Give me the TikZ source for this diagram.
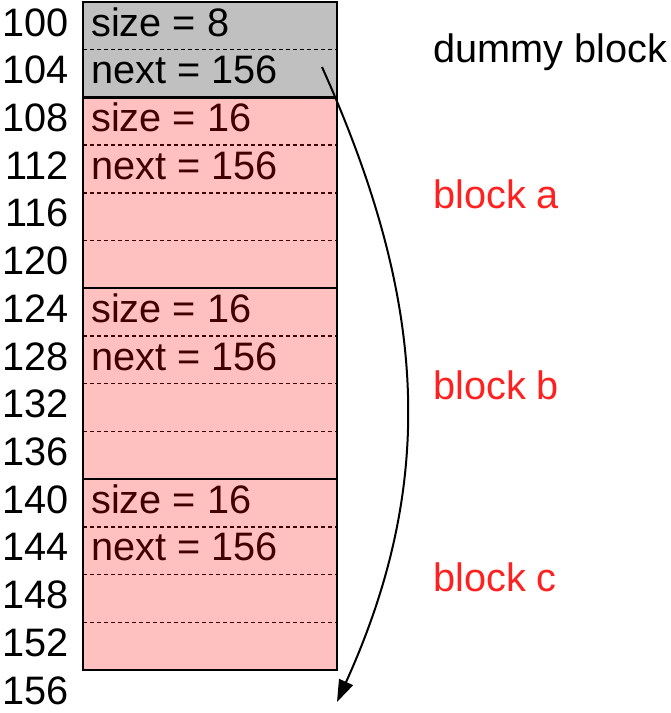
\documentclass[tikz,border=0pt]{standalone}
\usepackage{fontspec}
\setmainfont{Liberation Sans}
\usetikzlibrary{arrows.meta}
\definecolor{dummygray}{RGB}{192,192,192}
\definecolor{blockpink}{RGB}{255,192,192}
\definecolor{textdark}{RGB}{64,0,0}
\definecolor{labelred}{RGB}{255,32,32}
\begin{document}
\begin{tikzpicture}[x=1pt,y=-1pt,
  bigfont/.style={font=\fontsize{39.7}{46}\selectfont},
  addr/.style={bigfont,anchor=base east,inner sep=0pt,text=black},
  celltext/.style={bigfont,anchor=base west,inner sep=0pt},
  blocklabel/.style={bigfont,anchor=base west,inner sep=0pt},
  dashline/.style={line width=1.5pt,dash pattern=on 4pt off 3pt},
  solidline/.style={line width=2.2pt},
  link/.style={line width=2pt,-{Triangle[length=22pt,width=15pt]}}]
\pgfmathsetmacro{\rh}{47.714}
\useasboundingbox (0,0) rectangle (671,713);
% fills
\fill[dummygray] (83,2) rectangle (337,2+2*\rh);
\fill[blockpink] (83,2+2*\rh) rectangle (337,670);
% dashed row separators
\draw[dashline,black] (83,2+\rh) -- (337,2+\rh);
\foreach \i in {3,4,5,7,8,9,11,12,13}
  \draw[dashline,textdark] (83,2+\i*\rh) -- (337,2+\i*\rh);
% solid block separators
\foreach \i in {2,6,10}
  \draw[solidline] (83,2+\i*\rh) -- (337,2+\i*\rh);
\draw[solidline] (83,2) rectangle (337,670);
% addresses
\foreach \i/\t in {0/100,1/104,2/108,3/112,4/116,5/120,6/124,7/128,8/132,9/136,10/140,11/144,12/148,13/152,14/156}
  \node[addr] (a\t) at (69,2+\i*\rh+34) {\t};
% cell texts
\node[celltext,text=black] (dsize) at (91,2+0*\rh+34) {size = 8};
\node[celltext,text=black] (dnext) at (91,2+1*\rh+34) {next = 156};
\node[celltext,text=textdark] (asize) at (91,2+2*\rh+34) {size = 16};
\node[celltext,text=textdark] (anext) at (91,2+3*\rh+34) {next = 156};
\node[celltext,text=textdark] (bsize) at (91,2+6*\rh+34) {size = 16};
\node[celltext,text=textdark] (bnext) at (91,2+7*\rh+34) {next = 156};
\node[celltext,text=textdark] (csize) at (91,2+10*\rh+34) {size = 16};
\node[celltext,text=textdark] (cnext) at (91,2+11*\rh+34) {next = 156};
% block labels
\node[blocklabel,text=black] (ldummy) at (433,62) {dummy block};
\node[blocklabel,text=labelred] (la) at (433,208) {block a};
\node[blocklabel,text=labelred] (lb) at (433,399.5) {block b};
\node[blocklabel,text=labelred] (lc) at (433,591.5) {block c};
% arrow
\coordinate (src) at (322,67);
\coordinate (dst) at (337,702);
\draw[link] (src) .. controls (424,294) and (440,475) .. (dst);
\end{tikzpicture}
\end{document}
